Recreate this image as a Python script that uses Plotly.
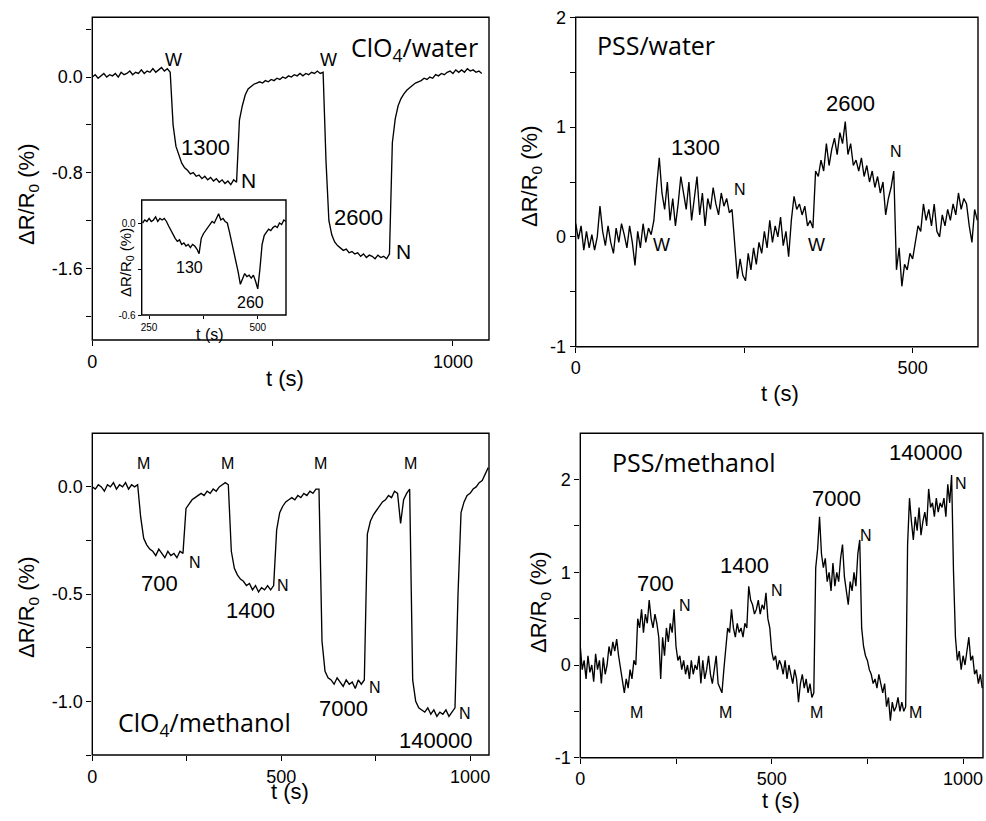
import plotly.graph_objects as go

W, H = 986, 821

# ---------------- data ----------------
# ClO4 / water, sampled every 8 s starting at t = 0
clo4_water_dt = 8
clo4_water_y = [
    0.00, 0.02, -0.01, 0.01, 0.03, 0.00, 0.02, 0.01, 0.03, 0.00,
    0.04, 0.02, 0.03, 0.05, 0.02, 0.04, 0.03, 0.06, 0.03, 0.05,
    0.04, 0.07, 0.04, 0.06, 0.08, 0.05, 0.07, 0.04, -0.40, -0.58,
    -0.66, -0.72, -0.76, -0.78, -0.81, -0.80, -0.83, -0.82, -0.85, -0.83,
    -0.86, -0.84, -0.87, -0.85, -0.88, -0.86, -0.89, -0.87, -0.90, -0.86,
    -0.88, -0.36, -0.24, -0.15, -0.10, -0.08, -0.06, -0.05, -0.04, -0.05,
    -0.03, -0.04, -0.02, -0.03, -0.01, -0.02, 0.00, -0.01, 0.01, 0.00,
    0.02, 0.01, 0.03, 0.01, 0.03, 0.02, 0.04, 0.03, 0.05, 0.03,
    0.04, -0.70, -1.20, -1.32, -1.38, -1.41, -1.43, -1.45, -1.44, -1.47,
    -1.46, -1.48, -1.47, -1.50, -1.48, -1.51, -1.49, -1.50, -1.52, -1.49,
    -1.51, -1.50, -1.52, -1.48, -0.55, -0.35, -0.24, -0.18, -0.14, -0.11,
    -0.09, -0.07, -0.05, -0.04, -0.03, -0.01, -0.02, 0.00, -0.01, 0.02,
    0.01, 0.03, 0.02, 0.04, 0.05, 0.03, 0.06, 0.04, 0.06, 0.04,
    0.07, 0.05, 0.06, 0.04, 0.05, 0.03,
]

# inset: ClO4 / water at 130 and 260, every 5 s starting at t = 235
inset_t0, inset_dt = 235, 5
inset_y = [
    0.00, 0.02, 0.01, 0.03, 0.01, 0.02, 0.04, 0.01, 0.03, 0.02,
    0.03, 0.01, -0.02, -0.05, -0.08, -0.10, -0.12, -0.11, -0.14, -0.13,
    -0.15, -0.14, -0.16, -0.14, -0.15, -0.17, -0.20, -0.10, -0.07, -0.05,
    -0.03, -0.01, 0.01, 0.00, 0.03, 0.06, 0.02, 0.03, 0.01, 0.00,
    -0.06, -0.12, -0.18, -0.25, -0.32, -0.40, -0.36, -0.33, -0.35, -0.34,
    -0.36, -0.34, -0.38, -0.43, -0.30, -0.14, -0.08, -0.06, -0.04, -0.05,
    -0.03, -0.02, -0.03, 0.00, -0.01, 0.02, 0.01,
]

# PSS / water, every 4 s starting at t = 0
pss_water_dt = 4
pss_water_y = [
    0.12, -0.02, 0.10, -0.12, 0.05, -0.10, 0.02, -0.12, 0.00, 0.28,
    0.05, -0.08, 0.10, -0.05, -0.15, 0.08, -0.05, 0.12, 0.02, -0.10,
    0.10, -0.05, -0.26, 0.05, -0.10, 0.12, -0.05, 0.08, 0.02, 0.15,
    0.45, 0.72, 0.40, 0.25, 0.50, 0.15, 0.35, 0.10, 0.30, 0.55,
    0.40, 0.25, 0.50, 0.15, 0.35, 0.55, 0.20, 0.40, 0.10, 0.35,
    0.25, 0.45, 0.30, 0.20, 0.40, 0.28, 0.35, 0.22, 0.25, -0.05,
    -0.38, -0.20, -0.35, -0.40, -0.15, -0.30, -0.10, -0.25, -0.05, -0.15,
    0.05, -0.10, 0.15, -0.05, 0.10, 0.00, 0.18, -0.08, 0.05, -0.18,
    0.15, 0.37, 0.25, 0.30, 0.20, 0.28, 0.10, 0.15, 0.08, 0.60,
    0.55, 0.70, 0.60, 0.85, 0.65, 0.80, 0.90, 0.75, 0.95, 0.85,
    1.05, 0.75, 0.85, 0.65, 0.70, 0.60, 0.72, 0.55, 0.65, 0.50,
    0.60, 0.45, 0.55, 0.40, 0.50, 0.20, 0.35, 0.45, 0.60, -0.30,
    -0.10, -0.45, -0.25, -0.30, -0.15, -0.20, -0.05, 0.10, 0.05, 0.30,
    0.15, 0.25, 0.10, 0.30, 0.05, 0.00, 0.20, 0.10, 0.25, 0.15,
    0.30, 0.20, 0.40, 0.25, 0.35, 0.30, 0.10, -0.05, 0.25, 0.15,
]

# ClO4 / methanol, every 8 s starting at t = 0
clo4_meth_dt = 8
clo4_meth_y = [
    0.00, -0.01, 0.01, 0.00, -0.02, 0.01, 0.00, 0.02, -0.01, 0.01,
    0.00, 0.02, -0.01, 0.01, 0.00, 0.01, -0.14, -0.24, -0.27, -0.29,
    -0.30, -0.32, -0.29, -0.31, -0.33, -0.30, -0.32, -0.31, -0.33, -0.30,
    -0.31, -0.10, -0.08, -0.06, -0.05, -0.04, -0.03, -0.04, -0.02, -0.03,
    -0.01, -0.02, 0.00, 0.01, 0.02, 0.01, -0.30, -0.38, -0.41, -0.43,
    -0.44, -0.46, -0.45, -0.48, -0.46, -0.49, -0.47, -0.48, -0.46, -0.48,
    -0.46, -0.20, -0.12, -0.09, -0.07, -0.06, -0.05, -0.06, -0.04, -0.05,
    -0.03, -0.04, -0.02, -0.03, -0.01, -0.01, -0.72, -0.86, -0.89, -0.90,
    -0.92, -0.89, -0.91, -0.93, -0.90, -0.92, -0.91, -0.94, -0.90, -0.92,
    -0.90, -0.22, -0.16, -0.13, -0.11, -0.09, -0.07, -0.06, -0.04, -0.05,
    -0.02, -0.03, -0.17, -0.06, -0.03, -0.01, -0.90, -1.00, -1.03, -1.04,
    -1.05, -1.03, -1.06, -1.04, -1.07, -1.05, -1.06, -1.04, -1.07, -1.05,
    -1.03, -0.50, -0.12, -0.07, -0.04, -0.03, -0.01, 0.00, 0.02, 0.03,
    0.06, 0.09,
]

# PSS / methanol, every 5 s starting at t = 0
pss_meth_dt = 5
pss_meth_y = [
    0.20, -0.05, 0.05, -0.15, 0.10, -0.08, 0.00, -0.18, 0.12, -0.05,
    0.05, -0.20, 0.08, -0.10, 0.00, 0.20, 0.10, 0.25, 0.15, 0.28,
    0.10, -0.05, -0.20, -0.30, -0.15, -0.25, -0.05, -0.15, 0.05, 0.00,
    0.50, 0.40, 0.60, 0.35, 0.55, 0.45, 0.70, 0.50, 0.40, 0.55,
    0.45, 0.30, -0.15, 0.30, 0.10, 0.40, 0.25, 0.45, 0.35, 0.60,
    0.20, 0.05, 0.10, -0.05, 0.05, -0.10, 0.00, -0.15, 0.05, -0.10,
    0.00, -0.05, 0.10, -0.20, 0.05, -0.15, -0.05, 0.10, -0.10, -0.20,
    -0.05, 0.10, -0.20, -0.25, -0.30, -0.05, 0.15, 0.40, 0.35, 0.60,
    0.40, 0.30, 0.45, 0.35, 0.40, 0.30, 0.45, 0.40, 0.85, 0.70,
    0.65, 0.55, 0.60, 0.70, 0.55, 0.65, 0.60, 0.78, 0.50, 0.40,
    0.15, 0.05, 0.10, -0.05, 0.05, 0.00, -0.10, 0.05, -0.15, 0.00,
    -0.10, -0.20, -0.05, -0.15, -0.40, -0.20, -0.10, -0.25, -0.15, -0.30,
    -0.20, -0.35, -0.30, 1.05, 1.25, 1.60, 1.20, 1.05, 1.15, 0.90,
    1.00, 0.80, 1.10, 0.85, 1.00, 0.90, 1.15, 1.30, 0.95, 0.80,
    0.65, 0.90, 0.80, 1.00, 0.85, 1.20, 1.35, 0.40, 0.20, 0.10,
    0.05, -0.05, -0.10, -0.20, -0.15, -0.25, -0.10, -0.20, -0.30, -0.20,
    -0.45, -0.35, -0.60, -0.40, -0.50, -0.45, -0.35, -0.50, -0.40, -0.50,
    -0.45, 1.30, 1.80, 1.55, 1.35, 1.60, 1.45, 1.70, 1.40, 1.55,
    1.65, 1.50, 1.90, 1.70, 1.75, 1.60, 1.80, 1.65, 1.75, 1.70,
    1.80, 1.60, 1.95, 1.75, 2.05, 1.00, 0.30, 0.05, 0.15, -0.05,
    0.10, 0.00, 0.15, 0.30, 0.05, 0.10, -0.10, -0.05, -0.20, -0.10,
    -0.25,
]

# tick values / labels (major = labelled, minor = unlabelled)
p1_xticks, p1_xlabels, p1_xminor = [0, 1000], ["0", "1000"], [500]
p1_yticks, p1_ylabels = [0.0, -0.8, -1.6], ["0.0", "-0.8", "-1.6"]
p1_yminor = [0.4, -0.4, -1.2, -2.0]
p2_xticks, p2_xlabels, p2_xminor = [0, 500], ["0", "500"], [250]
p2_yticks, p2_ylabels, p2_yminor = [-1, 0, 1, 2], ["-1", "0", "1", "2"], [-0.5, 0.5, 1.5]
p3_xticks, p3_xlabels, p3_xminor = [0, 500, 1000], ["0", "500", "1000"], [250, 750]
p3_yticks, p3_ylabels = [0.0, -0.5, -1.0], ["0.0", "-0.5", "-1.0"]
p3_yminor = [-0.25, -0.75, -1.25]
p4_xticks, p4_xlabels, p4_xminor = [0, 500, 1000], ["0", "500", "1000"], [250, 750]
p4_yticks, p4_ylabels, p4_yminor = [-1, 0, 1, 2], ["-1", "0", "1", "2"], [-0.5, 0.5, 1.5]
in_xticks, in_xlabels, in_xminor = [250, 500], ["250", "500"], [375]
in_yticks, in_ylabels, in_yminor = [0.0, -0.6], ["0.0", "-0.6"], [-0.3]


def times(n, dt, t0=0):
    return [t0 + i * dt for i in range(n)]


TICKFONT = "Liberation Sans, Arial, sans-serif"
TITLEFONT = "Open Sans, Noto Sans, sans-serif"


def px_x(x):
    return x / W


def px_y(y):
    return 1 - y / H


def dom_x(a, b):
    return [px_x(a), px_x(b)]


def dom_y(top, bottom):
    return [px_y(bottom), px_y(top)]


def axis(domain, rng, tv, tt, minor, anchor, size=18, ticklen=5):
    return dict(
        domain=domain, range=rng, anchor=anchor, automargin=False,
        tickmode="array", tickvals=tv, ticktext=tt,
        ticks="outside", ticklen=ticklen, tickwidth=1.2, tickcolor="black",
        minor=dict(tickmode="array", tickvals=minor, ticks="outside",
                   ticklen=ticklen, tickwidth=1.2, tickcolor="black", showgrid=False),
        showline=False, showgrid=False, zeroline=False,
        tickfont=dict(family=TICKFONT, size=size, color="black"),
    )


fig = go.Figure()
line = dict(color="black", width=1.35)

fig.add_trace(go.Scatter(x=times(len(clo4_water_y), clo4_water_dt), y=clo4_water_y,
                         mode="lines", line=line, xaxis="x", yaxis="y"))
fig.add_trace(go.Scatter(x=times(len(pss_water_y), pss_water_dt), y=pss_water_y,
                         mode="lines", line=line, xaxis="x2", yaxis="y2"))
fig.add_trace(go.Scatter(x=times(len(clo4_meth_y), clo4_meth_dt), y=clo4_meth_y,
                         mode="lines", line=line, xaxis="x3", yaxis="y3"))
fig.add_trace(go.Scatter(x=times(len(pss_meth_y), pss_meth_dt), y=pss_meth_y,
                         mode="lines", line=line, xaxis="x4", yaxis="y4"))
fig.add_trace(go.Scatter(x=times(len(inset_y), inset_dt, inset_t0), y=inset_y,
                         mode="lines", line=line, xaxis="x5", yaxis="y5"))

# plot-area boxes, in pixels (left, right, top, bottom)
box1 = (92.3, 489, 17.3, 340)
box2 = (575.7, 978, 17.3, 346.7)
box3 = (92.3, 489, 433.3, 755)
box4 = (580.3, 983, 433.3, 757.7)
box5 = (141.7, 286, 200, 315)

layout = dict(
    width=W, height=H, showlegend=False,
    margin=dict(l=0, r=0, t=0, b=0, autoexpand=False),
    paper_bgcolor="white", plot_bgcolor="white",
    xaxis=axis(dom_x(box1[0], box1[1]), [0, 1100], p1_xticks, p1_xlabels, p1_xminor, "y"),
    yaxis=axis(dom_y(box1[2], box1[3]), [-2.2, 0.5], p1_yticks, p1_ylabels, p1_yminor, "x"),
    xaxis2=axis(dom_x(box2[0], box2[1]), [0, 597], p2_xticks, p2_xlabels, p2_xminor, "y2"),
    yaxis2=axis(dom_y(box2[2], box2[3]), [-1, 2], p2_yticks, p2_ylabels, p2_yminor, "x2"),
    xaxis3=axis(dom_x(box3[0], box3[1]), [0, 1050], p3_xticks, p3_xlabels, p3_xminor, "y3"),
    yaxis3=axis(dom_y(box3[2], box3[3]), [-1.25, 0.25], p3_yticks, p3_ylabels, p3_yminor, "x3"),
    xaxis4=axis(dom_x(box4[0], box4[1]), [0, 1052], p4_xticks, p4_xlabels, p4_xminor, "y4"),
    yaxis4=axis(dom_y(box4[2], box4[3]), [-1, 2.5], p4_yticks, p4_ylabels, p4_yminor, "x4"),
    xaxis5=axis(dom_x(box5[0], box5[1]), [233, 565], in_xticks, in_xlabels, in_xminor, "y5",
                size=10, ticklen=3),
    yaxis5=axis(dom_y(box5[2], box5[3]), [-0.6, 0.15], in_yticks, in_ylabels, in_yminor, "x5",
                size=10, ticklen=3),
)
fig.update_layout(**layout)

# frames around every panel (paper coordinates, never clipped)
shapes = []
for (l, r, t, b) in (box1, box2, box3, box4, box5):
    shapes.append(dict(type="rect", xref="paper", yref="paper",
                       x0=px_x(l), x1=px_x(r), y0=px_y(b), y1=px_y(t),
                       line=dict(color="black", width=1.4),
                       fillcolor="rgba(0,0,0,0)", layer="above"))
fig.update_layout(shapes=shapes)

YT = "ΔR/R<sub>0</sub> (%)"
annotations = []


def label(text, x, y, size, family=TICKFONT, angle=0):
    annotations.append(dict(
        text=text, x=px_x(x), y=px_y(y), xref="paper", yref="paper",
        xanchor="center", yanchor="middle", showarrow=False, textangle=angle,
        font=dict(family=family, size=size, color="black"),
    ))


# axis titles
label(YT, 28, 195, 22, angle=-90)
label("t (s)", 285, 379, 22)
label(YT, 531, 177, 22, angle=-90)
label("t (s)", 780, 393, 22)
label(YT, 28, 608, 22, angle=-90)
label("t (s)", 290, 791, 22)
label(YT, 540, 603, 22, angle=-90)
label("t (s)", 781, 800, 22)
label(YT, 126, 263, 15, angle=-90)
label("t (s)", 210, 334, 16)

# panel 1
label("ClO<sub>4</sub>/water", 414, 48, 25, TITLEFONT)
label("W", 173, 60, 18)
label("1300", 205, 147, 22)
label("N", 248, 180, 21)
label("W", 328, 60, 18)
label("2600", 358, 217, 22)
label("N", 403, 252, 21)
label("130", 189, 267, 16)
label("260", 250, 302, 16)

# panel 2
label("PSS/water", 656, 45, 25, TITLEFONT)
label("1300", 695, 147, 22)
label("N", 740, 190, 16)
label("W", 661, 245, 18)
label("2600", 850, 103, 22)
label("W", 816, 245, 18)
label("N", 896, 152, 16)

# panel 3
for mx in (143, 227, 320, 410):
    label("M", mx, 463, 16)
label("700", 159, 583, 22)
label("N", 195, 562, 16)
label("1400", 250, 610, 22)
label("N", 283, 585, 16)
label("7000", 343, 708, 22)
label("N", 375, 687, 16)
label("140000", 435, 740, 22)
label("N", 465, 713, 16)
label("ClO<sub>4</sub>/methanol", 204, 723, 25, TITLEFONT)

# panel 4
label("PSS/methanol", 694, 462, 25, TITLEFONT)
label("140000", 925, 452, 22)
label("N", 961, 483, 16)
label("7000", 836, 498, 22)
label("N", 866, 535, 16)
label("1400", 744, 565, 22)
label("N", 777, 590, 16)
label("700", 655, 583, 22)
label("N", 685, 605, 16)
for mx in (636, 725, 816, 915):
    label("M", mx, 712, 16)

fig.update_layout(annotations=annotations)
fig.write_html(
    "out.html",
    config={"displayModeBar": False},
    post_script="document.body.style.margin='0';document.body.style.overflow='hidden';",
)
